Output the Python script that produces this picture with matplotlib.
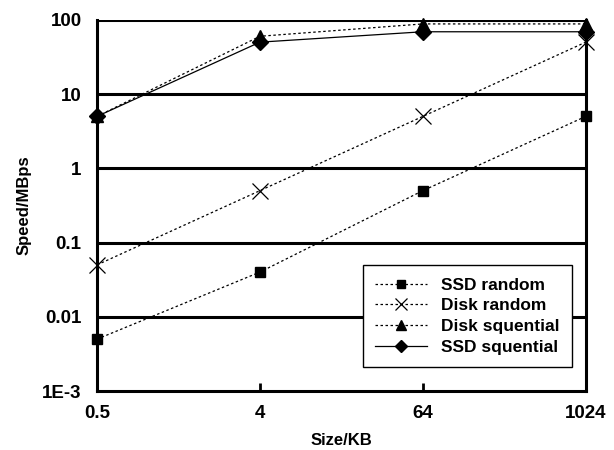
import matplotlib
matplotlib.use("Agg")
import matplotlib.pyplot as plt

plt.rcParams['font.family'] = ['Liberation Sans', 'DejaVu Sans']
plt.rcParams['font.weight'] = 'bold'

sizes = ["0.5", "4", "64", "1024"]
ssd_random = [0.005, 0.04, 0.5, 5]
disk_random = [0.05, 0.5, 5, 50]
disk_seq = [5, 60, 88, 88]
ssd_seq = [5, 50, 69, 69]
ytick_vals = [0.001, 0.01, 0.1, 1, 10, 100]
ytick_labels = ["1E-3", "0.01", "0.1", "1", "10", "100"]

fig = plt.figure(figsize=(6.14, 4.5), dpi=100)
ax = fig.add_axes([0.158, 0.131, 0.796, 0.825])

x = list(range(len(sizes)))
dot = (0, (2, 2))
ax.plot(x, ssd_random, color='black', linestyle=dot, linewidth=0.9,
        marker='s', markersize=7, label='SSD random', clip_on=False, zorder=5)
ax.plot(x, disk_random, color='black', linestyle=dot, linewidth=0.9,
        marker='x', markersize=11, markeredgewidth=0.9, label='Disk random',
        clip_on=False, zorder=5)
ax.plot(x, disk_seq, color='black', linestyle=dot, linewidth=0.9,
        marker='^', markersize=9, label='Disk squential', clip_on=False, zorder=5)
ax.plot(x, ssd_seq, color='black', linestyle='-', linewidth=0.9,
        marker='D', markersize=8, label='SSD squential', clip_on=False, zorder=5)

ax.set_yscale('log')
ax.set_ylim(0.001, 100)
ax.set_xlim(0, 3)
ax.set_yticks(ytick_vals)
ax.set_yticklabels(ytick_labels)
ax.minorticks_off()
ax.set_xticks(x)
ax.set_xticklabels(sizes)

# heavy horizontal lines at every decade
for v in ytick_vals[1:]:
    ax.axhline(v, color='black', linewidth=2.2, zorder=2)

for side in ['left', 'right', 'bottom']:
    ax.spines[side].set_linewidth(2.2)
ax.spines['top'].set_visible(False)

ax.tick_params(axis='x', direction='in', length=6, width=2, labelsize=13.5, pad=10)
ax.tick_params(axis='y', length=0, labelsize=13.5, pad=11)
for lbl in ax.get_xticklabels() + ax.get_yticklabels():
    lbl.set_fontweight('bold')

ax.set_xlabel('Size/KB', fontsize=12, fontweight='bold', labelpad=8)
ax.set_ylabel('Speed/MBps', fontsize=12, fontweight='bold', labelpad=8)

leg = ax.legend(loc='lower right', bbox_to_anchor=(0.971, 0.065), borderaxespad=0,
                fontsize=12.5, frameon=True, fancybox=False, edgecolor='black',
                markerscale=0.8, handlelength=3.0, borderpad=0.7,
                labelspacing=0.32, framealpha=1)
leg.get_frame().set_linewidth(1.0)
for t in leg.get_texts():
    t.set_fontweight('bold')
leg.set_zorder(10)

fig.savefig('out.png', dpi=100)
